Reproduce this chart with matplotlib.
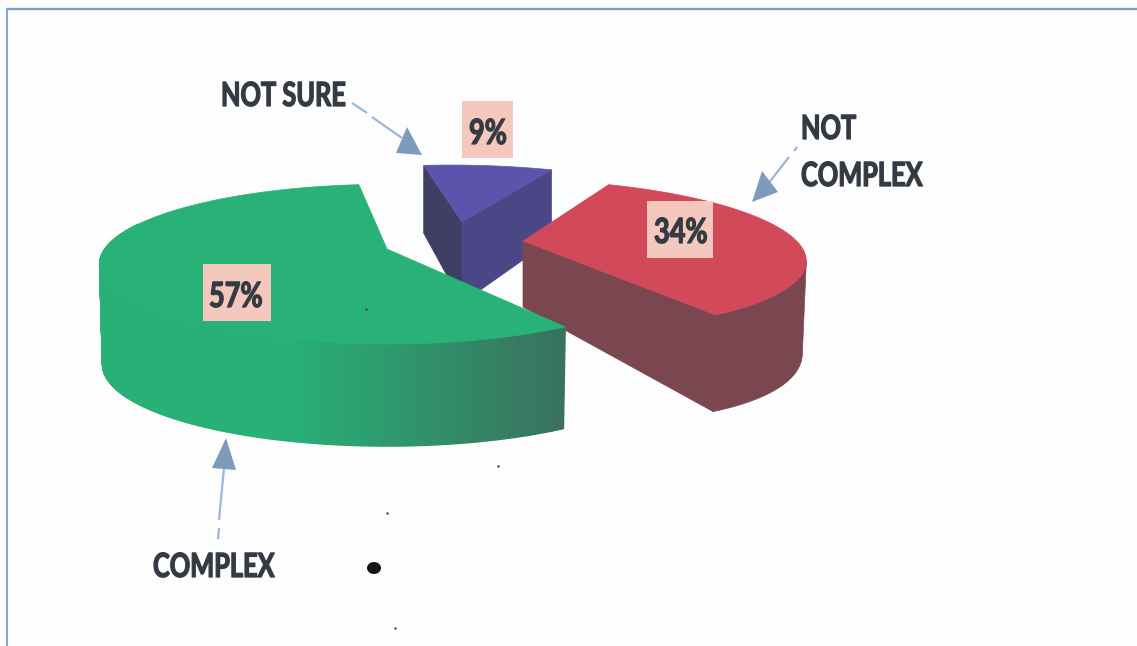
import numpy as np
import matplotlib
matplotlib.use('Agg')
import matplotlib.pyplot as plt
from matplotlib.patches import Polygon, Rectangle, Ellipse
from matplotlib.collections import PolyCollection
from matplotlib.colors import to_rgb
from matplotlib.patheffects import AbstractPathEffect
from matplotlib.transforms import Affine2D

categories = ['COMPLEX', 'NOT SURE', 'NOT COMPLEX']
percents = [57, 9, 34]

plt.rcParams['font.family'] = ['Lato', 'Open Sans', 'DejaVu Sans']

TEXT_COL = '#343a42'
BOX_COL = '#f4c8bd'
HEAD_COL = '#7f9bbc'
LINE_COL = '#9db6dc'

# perspective pie: screen y points down, so angles run clockwise
START_ANGLE = 58.0
PERSP = 0.19
RX, RY = 285.0, 77.0

# apex, scale, shear and wall depth (d0 + dx*X + dy*Y) of each exploded slice
slices = {
    'COMPLEX': dict(cx=387, cy=249, sx=0.99, sy=1.0, shear=0.0, d=(100, 0, 2), taper=0.99),
    'NOT SURE': dict(cx=462, cy=222, sx=0.95, sy=0.88, shear=0.2, d=(81, 2, 13), taper=1.0),
    'NOT COMPLEX': dict(cx=523, cy=241, sx=0.96, sy=0.95, shear=0.27, d=(66, 21, 23), taper=0.986),
}


class Squeeze(AbstractPathEffect):
    # narrows glyphs horizontally around the text origin and thickens them a little
    def __init__(self, fx, stroke=0.9):
        super().__init__()
        self.fx = fx
        self.stroke = stroke

    def draw_path(self, renderer, gc, tpath, affine, rgbFace=None):
        gc0 = renderer.new_gc()
        gc0.copy_properties(gc)
        gc0.set_linewidth(self.stroke)
        gc0.set_foreground(rgbFace)
        renderer.draw_path(gc0, tpath, Affine2D().scale(self.fx, 1) + affine, rgbFace)
        gc0.restore()


def project(s, theta, r=1.0):
    X = r * np.cos(theta)
    Y = r * np.sin(theta)
    w = 1 - PERSP * Y
    py = RY * s['sy'] * Y / w
    px = RX * s['sx'] * X / w + s['shear'] * py
    return s['cx'] + px, s['cy'] + py


def drop(s, theta, r=1.0):
    # point on the bottom rim under the same angle
    x, y = project(s, theta, r)
    X = r * np.cos(theta)
    Y = r * np.sin(theta)
    d0, dx, dy = s['d']
    return s['cx'] + (x - s['cx']) * s['taper'], y + d0 + dx * X + dy * Y


def top_outline(s, t0, t1):
    t = np.linspace(t0, t1, 200)
    x, y = project(s, t)
    return np.vstack([[s['cx'], s['cy']], np.column_stack([x, y])])


def wall(s, t0, t1, n=200):
    t = np.linspace(t0, t1, n)
    x, y = project(s, t)
    bx, by = drop(s, t)
    return np.column_stack([x, y]), np.column_stack([bx, by])


def cut_face(s, theta):
    x0, y0 = project(s, theta)
    x1, y1 = drop(s, theta)
    ax1, ay1 = drop(s, theta, 0.0)
    return [(s['cx'], s['cy']), (x0, y0), (x1, y1), (ax1, ay1)]


fig = plt.figure(figsize=(11.37, 6.46), dpi=100, facecolor='#fdfdfd')
ax = fig.add_axes([0, 0, 1, 1])
ax.set_xlim(0, 1137)
ax.set_ylim(646, 0)
ax.axis('off')

# frame, only top and left edges are in view
ax.plot([6, 1137], [8.5, 8.5], color='#7f9fc8', lw=1.7, solid_capstyle='butt')
ax.plot([7, 7], [8, 646], color='#86a6cd', lw=1.4, solid_capstyle='butt')

# slice angles from the percentages
edges = np.radians(START_ANGLE + np.cumsum([0] + percents) * 3.6)
angle = {c: (edges[i], edges[i + 1]) for i, c in enumerate(categories)}

# blue slice goes first, the other two sit in front of it
s = slices['NOT SURE']
t0, t1 = angle['NOT SURE']
ax.add_patch(Polygon(cut_face(s, t0), fc='#3f3f64', ec='#3f3f64', lw=0.5, zorder=2))
ax.add_patch(Polygon(cut_face(s, t1), fc='#4b4786', ec='#4b4786', lw=0.5, zorder=2))
ax.add_patch(Polygon(top_outline(s, t0, t1), fc='#5c53ad', ec='#5c53ad', lw=0.5, zorder=3))

# red slice, cut face runs from the apex to the near corner
s = slices['NOT COMPLEX']
t0, t1 = angle['NOT COMPLEX']
ax.add_patch(Polygon(cut_face(s, t1), fc='#7a4650', ec='#7a4650', lw=0.5, zorder=4))
# only the front of the rim shows, from its rightmost point onwards
ts = np.linspace(t0, t1, 400)
t_right = ts[np.argmax(project(s, ts)[0])]
up, low = wall(s, t_right, t1)
ax.add_patch(Polygon(np.vstack([up, low[::-1]]), fc='#7a4650', ec='#7a4650', lw=0.5, zorder=4))
ax.add_patch(Polygon(top_outline(s, t0, t1), fc='#d2495a', ec='#d2495a', lw=0.5, zorder=5))

# green slice, the outer wall darkens towards the right
s = slices['COMPLEX']
t0, t1 = angle['COMPLEX']
up, low = wall(s, t0, np.radians(200), 240)
quads = [[up[i], up[i + 1], low[i + 1], low[i]] for i in range(len(up) - 1)]
c_a = np.array(to_rgb('#28b077'))
c_b = np.array(to_rgb('#39725e'))
cols = []
for q in quads:
    f = np.clip((q[0][0] - 290) / (564 - 290), 0, 1)
    cols.append(c_a + (c_b - c_a) * f)
ax.add_collection(PolyCollection(quads, facecolors=cols, edgecolors=cols, linewidths=1.0, zorder=6))
ax.add_patch(Polygon(top_outline(s, t0, t1), fc='#29b278', ec='#29b278', lw=0.5, zorder=7))

# percentage boxes with the left edge and baseline of each number
label_boxes = {
    'COMPLEX': (203, 264, 68, 57, 209, 307),
    'NOT SURE': (462, 101, 51, 57, 469, 144),
    'NOT COMPLEX': (647, 201, 66, 57, 654, 243),
}
for c, p in zip(categories, percents):
    bx, by, bw, bh, tx, ty = label_boxes[c]
    ax.add_patch(Rectangle((bx, by), bw, bh, fc=BOX_COL, ec='none', zorder=8))
    ax.text(tx, ty, f'{p}%', ha='left', va='baseline', fontsize=25, fontweight='bold', color=TEXT_COL,
            zorder=9, path_effects=[Squeeze(0.78)])

# category names
name_fx = [Squeeze(0.76)]
ax.text(221, 106, 'NOT SURE', ha='left', va='baseline', fontsize=24, fontweight='bold', color=TEXT_COL, path_effects=name_fx)
ax.text(801, 139, 'NOT', ha='left', va='baseline', fontsize=24, fontweight='bold', color=TEXT_COL, path_effects=name_fx)
ax.text(801, 186, 'COMPLEX', ha='left', va='baseline', fontsize=24, fontweight='bold', color=TEXT_COL, path_effects=name_fx)
ax.text(153, 577, 'COMPLEX', ha='left', va='baseline', fontsize=24, fontweight='bold', color=TEXT_COL, path_effects=name_fx)

# arrows: dashed shaft and a heavy triangular head
arrows = [
    ([(352, 103), (367, 113)], [(372, 117), (402, 138)], [(422, 155), (407, 127), (396, 153)]),
    ([(797, 147), (794, 151)], [(789, 157), (768, 184)], [(752, 202), (762, 171), (778, 192)]),
    ([(218, 539), (219, 528)], [(219, 520), (224, 468)], [(226, 438), (212, 468), (236, 470)]),
]
for dash, shaft, head in arrows:
    for seg in (dash, shaft):
        ax.plot(*zip(*seg), color=LINE_COL, lw=1.6, solid_capstyle='butt', zorder=1)
    ax.add_patch(Polygon(head, fc=HEAD_COL, ec='none', zorder=10))

# scanner specks
ax.add_patch(Ellipse((374, 568), 14, 12, fc='#101512', ec='none', zorder=10))
spx = [366, 387, 395, 498]
spy = [309, 513, 628, 466]
ax.scatter(spx, spy, s=3, color='#6b2a3a', linewidths=0, zorder=10)

fig.savefig('out.png', dpi=100, facecolor=fig.get_facecolor())
